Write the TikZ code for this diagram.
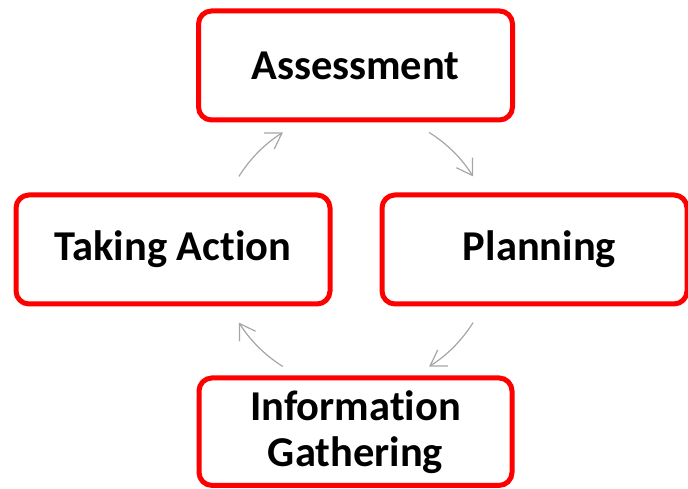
\documentclass[tikz,border=0pt]{standalone}
\usepackage{fontspec}
\setmainfont{Carlito}[Ligatures={NoCommon,NoContextual}]
\usetikzlibrary{arrows.meta}
\definecolor{arrowgray}{HTML}{A6A6A6}
\definecolor{boxred}{HTML}{FF0000}
\begin{document}
\begin{tikzpicture}[x=1pt,y=1pt,
  box/.style={draw=boxred, line width=5pt, rounded corners=13pt, fill=white,
    font=\bfseries\fontsize{42.5}{46}\selectfont, align=center, inner sep=0pt,
    minimum height=109pt},
  cyc/.style={draw=arrowgray, line width=1.2pt,
    -{Straight Barb[length=15pt,width=19pt,line width=1.2pt]}}]
\path[use as bounding box] (0,0) rectangle (688,489);
\clip (0,0) rectangle (688,489);
\node[box, minimum width=314pt] (A) at (355.5,423.5) {Assessment};
\node[box, minimum width=314pt] (T) at (173,239.5) {Taking Action};
\node[box, minimum width=305pt] (P) at (534.5,239.5) {\hspace*{10pt}Planning};
\node[box, minimum width=313pt, minimum height=107.5pt] (I) at (355.5,57.3) {Information\\Gathering};
\coordinate (cen) at (356,239.5);
\draw[cyc] ([shift={(148:138)}]cen) arc[start angle=148, end angle=122, radius=138];
\draw[cyc] ([shift={(58:138)}]cen) arc[start angle=58, end angle=32, radius=138];
\draw[cyc] ([shift={(-32:138)}]cen) arc[start angle=-32, end angle=-58, radius=138];
\draw[cyc] ([shift={(-122:138)}]cen) arc[start angle=-122, end angle=-148, radius=138];
\end{tikzpicture}
\end{document}
